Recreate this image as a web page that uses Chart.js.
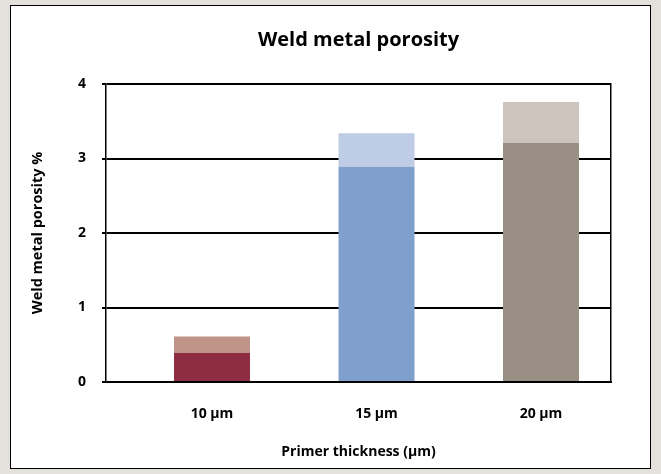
<!DOCTYPE html>
<html>
<head>
<meta charset="utf-8">
<script src="https://cdn.jsdelivr.net/npm/chart.js@4.4.1/dist/chart.umd.min.js"></script>
<style>
  html, body { margin: 0; padding: 0; background: #e4e0dc; }
  #panel {
    position: absolute; left: 10px; top: 5px;
    width: 639px; height: 462px;
    background: #fff; border: 1.5px solid #000;
  }
  #chart { position: absolute; left: 0; top: 0; }
</style>
</head>
<body>
<div id="panel"></div>
<canvas id="chart" width="661" height="474"></canvas>
<script>
'use strict'

// Categories and values
var categories = ['10 μm', '15 μm', '20 μm'];
var categoryPos = [1, 2, 3];
var baseValues = [0.39, 2.89, 3.21];
var topValues = [0.22, 0.45, 0.55];
var yTicks = [0, 1, 2, 3, 4];

// Colours per bar (dark lower part, light upper part)
var darkColors = ['#8e2c42', '#7f9fcd', '#9a8f84'];
var lightColors = ['#c09388', '#bfcce6', '#cdc5bd'];

var font = 'Open Sans';

// Pair each value with its category position
function toPoints(values) {
  return values.map(function(v, i) { return { x: categoryPos[i], y: v }; });
}

var ctx = document.getElementById('chart');

new Chart(ctx, {
  type: 'bar',
  data: {
    datasets: [{
      label: 'base',
      data: toPoints(baseValues),
      backgroundColor: darkColors,
      barPercentage: 0.462,
      categoryPercentage: 1
    },
    {
      label: 'top',
      data: toPoints(topValues),
      backgroundColor: lightColors,
      barPercentage: 0.462,
      categoryPercentage: 1
    }]
  },
  options: {
    responsive: false,
    animation: false,
    devicePixelRatio: 1,
    layout: {
      padding: { left: 20, right: 50, top: 0, bottom: 0 }
    },
    plugins: {
      legend: { display: false },
      tooltip: { enabled: false },
      title: {
        display: true,
        fullSize: false,
        text: 'Weld metal porosity',
        color: '#000',
        font: { family: font, size: 20, weight: 'bold' },
        padding: { top: 28, bottom: 32 }
      }
    },
    scales: {
      x: {
        type: 'linear',
        stacked: true,
        offset: false,
        min: 0.3556,
        max: 3.4255,
        z: 1,
        afterBuildTicks: function(scale) {
          scale.ticks = categoryPos.map(function(v) { return { value: v }; });
        },
        grid: { display: false },
        border: { display: true, color: '#000', width: 2 },
        ticks: {
          color: '#000',
          padding: 16,
          font: { family: font, size: 14, weight: 'bold' },
          callback: function(value) { return categories[categoryPos.indexOf(value)]; }
        },
        title: {
          display: true,
          text: 'Primer thickness (μm)',
          color: '#000',
          font: { family: font, size: 14, weight: 'bold' },
          padding: { top: 10, bottom: 14 }
        },
        afterFit: function(scale) { scale.height = 92; }
      },
      y: {
        stacked: true,
        min: 0,
        max: 4,
        afterBuildTicks: function(scale) {
          scale.ticks = yTicks.map(function(v) { return { value: v }; });
        },
        grid: {
          color: '#000',
          lineWidth: 2,
          tickLength: 4
        },
        border: { display: true, color: '#000', width: 1.5 },
        ticks: {
          color: '#000',
          padding: 16,
          font: { family: font, size: 14, weight: 'bold' }
        },
        title: {
          display: true,
          text: 'Weld metal porosity %',
          color: '#000',
          font: { family: font, size: 14.5, weight: 'bold' },
          padding: { top: 9, bottom: 0 }
        },
        afterFit: function(scale) { scale.width = 86; }
      },
      y2: {
        position: 'right',
        min: 0,
        max: 4,
        grid: { display: false },
        ticks: { display: false },
        border: { display: true, color: '#000', width: 1.5 },
        afterFit: function(scale) { scale.width = 0; }
      }
    }
  }
});
</script>
</body>
</html>
